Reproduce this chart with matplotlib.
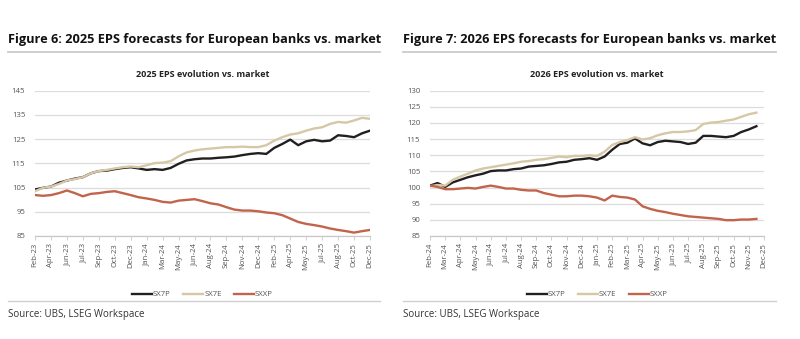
import matplotlib
matplotlib.use("Agg")
import matplotlib.pyplot as plt
import numpy as np

plt.rcParams['font.family'] = ['Open Sans', 'DejaVu Sans']

# ---------------- Data (sampled every half tick-label interval) ----------------
labels_25 = ["Feb-23", "Apr-23", "Jun-23", "Jul-23", "Sep-23", "Oct-23", "Dec-23",
             "Jan-24", "Mar-24", "May-24", "Jun-24", "Aug-24", "Sep-24", "Nov-24",
             "Dec-24", "Feb-25", "Apr-25", "May-25", "Jul-25", "Aug-25", "Oct-25", "Dec-25"]

sx7p_25 = [104.2, 104.9, 105.4, 107.0, 107.9, 108.7, 109.3, 110.9, 111.8, 112.0, 112.6,
           113.1, 113.4, 112.9, 112.3, 112.6, 112.3, 113.1, 114.8, 116.2, 116.7, 117.0,
           117.0, 117.3, 117.5, 117.8, 118.4, 118.9, 119.2, 118.9, 121.4, 123.0, 124.8,
           122.5, 124.1, 124.7, 124.1, 124.4, 126.6, 126.3, 125.8, 127.4, 128.5]
sx7e_25 = [103.5, 104.9, 105.4, 106.5, 107.9, 108.5, 109.3, 110.9, 111.8, 112.3, 112.9,
           113.4, 113.7, 113.4, 114.2, 115.1, 115.3, 115.9, 117.9, 119.5, 120.3, 120.8,
           121.1, 121.4, 121.7, 121.7, 121.9, 121.7, 121.7, 122.5, 124.4, 125.8, 126.9,
           127.4, 128.5, 129.4, 129.9, 131.3, 132.1, 131.8, 132.7, 133.8, 133.4]
sxxp_25 = [101.9, 101.6, 101.9, 102.7, 103.8, 102.7, 101.4, 102.4, 102.7, 103.2, 103.5,
           102.7, 101.9, 101.0, 100.5, 99.9, 99.1, 98.8, 99.6, 99.9, 100.2, 99.4,
           98.5, 98.0, 96.9, 95.9, 95.5, 95.5, 95.2, 94.7, 94.4, 93.6, 92.2,
           90.8, 90.0, 89.5, 88.9, 88.1, 87.5, 87.0, 86.4, 87.0, 87.5]

labels_26 = ["Feb-24", "Mar-24", "Apr-24", "May-24", "Jun-24", "Jul-24", "Aug-24", "Sep-24",
             "Oct-24", "Nov-24", "Dec-24", "Jan-25", "Feb-25", "Mar-25", "Apr-25", "May-25",
             "Jun-25", "Jul-25", "Aug-25", "Sep-25", "Oct-25", "Nov-25", "Dec-25"]

sx7p_26 = [100.6, 101.4, 100.2, 101.6, 102.4, 103.2, 103.8, 104.3, 105.1, 105.3, 105.3,
           105.7, 105.9, 106.5, 106.7, 106.9, 107.3, 107.8, 108.0, 108.6, 108.8, 109.1,
           108.6, 109.6, 111.7, 113.5, 113.9, 115.2, 113.7, 113.1, 114.1, 114.5, 114.3,
           114.1, 113.5, 113.9, 116.0, 116.0, 115.8, 115.6, 116.0, 117.2, 118.0, 119.0]
sx7e_26 = [100.4, 100.8, 100.6, 102.4, 103.4, 104.3, 105.3, 105.9, 106.3, 106.7, 107.1,
           107.5, 108.0, 108.2, 108.6, 108.8, 109.2, 109.6, 109.4, 109.8, 109.8, 110.0,
           109.8, 111.1, 113.2, 114.1, 114.7, 115.6, 114.9, 115.3, 116.2, 116.8, 117.2,
           117.2, 117.4, 117.8, 119.7, 120.1, 120.3, 120.7, 121.1, 121.9, 122.7, 123.2]
sxxp_26 = [100.6, 100.2, 99.5, 99.5, 99.7, 99.9, 99.7, 100.2, 100.6, 100.2, 99.7,
           99.7, 99.3, 99.1, 99.1, 98.3, 97.8, 97.3, 97.3, 97.5, 97.5, 97.3,
           96.9, 96.0, 97.5, 97.1, 96.9, 96.3, 94.2, 93.4, 92.8, 92.4, 91.9,
           91.5, 91.1, 90.9, 90.7, 90.5, 90.3, 89.9, 89.9, 90.1, 90.1, 90.3]

series_names = ["SX7P", "SX7E", "SXXP"]
colors = ["#231f20", "#d6c7a6", "#c2634c"]

W, H = 800, 339
fig = plt.figure(figsize=(W / 100, H / 100), dpi=100)


def fx(px):
    return px / W


def fy(py):
    return 1 - py / H


def draw_panel(ax_rect, labels, data, ylim, ystep, title):
    ax = fig.add_axes(ax_rect)
    for vals, name, c in zip(data, series_names, colors):
        x = np.arange(len(vals)) * 0.5
        ax.plot(x, vals, color=c, lw=1.7, label=name, solid_joinstyle='round')
    ax.set_xlim(0, len(labels) - 1)
    ax.set_ylim(*ylim)
    ax.set_yticks(np.arange(ylim[0], ylim[1] + 0.1, ystep))
    ax.set_xticks(np.arange(len(labels)))
    ax.set_xticklabels(labels, rotation=90)
    ax.grid(axis='y', color='#dcdcdc', lw=0.9)
    ax.set_axisbelow(True)
    for s in ['top', 'right', 'left']:
        ax.spines[s].set_visible(False)
    ax.spines['bottom'].set_color('#c8c8c8')
    ax.spines['bottom'].set_linewidth(0.9)
    ax.tick_params(axis='y', length=0, pad=7, labelsize=5.6, labelcolor='#555555')
    ax.tick_params(axis='x', length=3, width=0.6, color='#c8c8c8', pad=2,
                   labelsize=5.6, labelcolor='#555555')
    ax.set_title(title, fontsize=6.5, fontweight='bold', color='#222222', pad=10)
    leg = ax.legend(loc='upper center', bbox_to_anchor=(0.5, -0.33), ncol=3,
                    frameon=False, fontsize=5.6, handlelength=2.6, columnspacing=1.6,
                    handletextpad=0.1, labelcolor='#555555')
    for line in leg.get_lines():
        line.set_linewidth(1.7)
    return ax


draw_panel([fx(35), fy(236), fx(335), (236 - 90.7) / H], labels_25,
           [sx7p_25, sx7e_25, sxxp_25], (85, 145), 10, "2025 EPS evolution vs. market")
draw_panel([fx(430), fy(236), fx(334), (236 - 90.7) / H], labels_26,
           [sx7p_26, sx7e_26, sxxp_26], (85, 130), 5, "2026 EPS evolution vs. market")

# Figure headers, rules and sources
for x0, x1, head in [(8, 380, "Figure 6: 2025 EPS forecasts for European banks vs. market"),
                     (403, 776, "Figure 7: 2026 EPS forecasts for European banks vs. market")]:
    fig.text(fx(x0), fy(40), head, fontsize=9.2, fontweight='bold', color='#111111',
             ha='left', va='center')
    fig.add_artist(plt.Line2D([fx(x0), fx(x1)], [fy(52), fy(52)], color='#cccccc', lw=1.3))
    fig.add_artist(plt.Line2D([fx(x0), fx(x1)], [fy(301), fy(301)], color='#d0d0d0', lw=1.0))
    fig.text(fx(x0), fy(315), "Source: UBS, LSEG Workspace", fontsize=7, color='#333333',
             ha='left', va='center')

fig.savefig("out.png", dpi=100, facecolor='white')
